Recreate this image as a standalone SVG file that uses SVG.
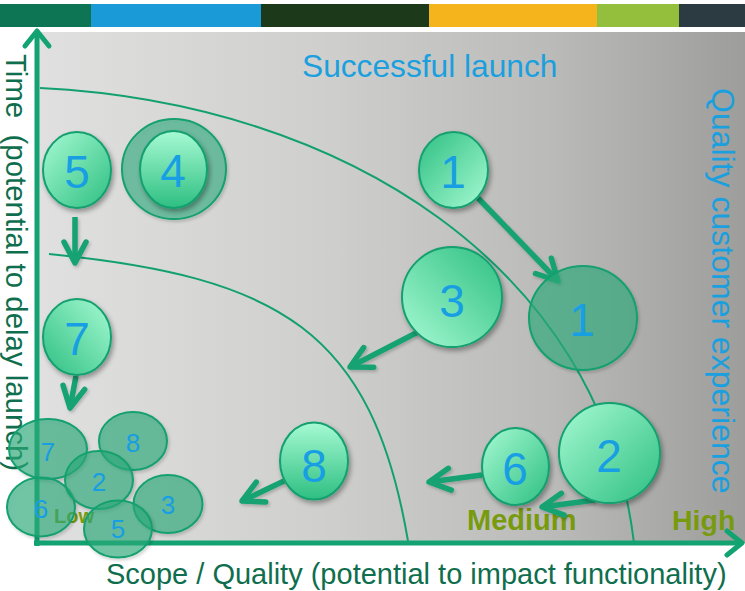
<svg xmlns="http://www.w3.org/2000/svg" width="745" height="591" viewBox="0 0 745 591">
  <style>
    .arc { fill: none; stroke: #12a070; stroke-width: 2; }
    .axis { fill: none; stroke: #13a372; stroke-width: 5; }
    .arrow { fill: none; stroke: #15a273; stroke-width: 5.5; }
    .bubble { stroke: #13a06f; stroke-width: 2; }
    .ghost { fill: #2aad7d; fill-opacity: 0.62; stroke: #13a06f; stroke-width: 2; }
    .num { font-family: "Liberation Sans", Arial, sans-serif; font-size: 46px; fill: #179ee3; text-anchor: middle; }
    .num-s { font-family: "Liberation Sans", Arial, sans-serif; font-size: 26px; fill: #179ee3; text-anchor: middle; }
    .title { font-family: "Liberation Sans", Arial, sans-serif; font-size: 31.7px; fill: #1a9fdf; }
    .axis-label { font-family: "Liberation Sans", Arial, sans-serif; font-size: 29px; fill: #0f6e4d; }
    .level { font-family: "Liberation Sans", Arial, sans-serif; font-weight: bold; fill: #789a0e; }
  </style>
  <defs>
    <linearGradient id="plotBg" x1="0" y1="0" x2="1" y2="0">
      <stop offset="0" stop-color="#e0e0e0"/>
      <stop offset="0.4" stop-color="#cfd0cd"/>
      <stop offset="0.72" stop-color="#bbbcb9"/>
      <stop offset="1" stop-color="#9d9e9b"/>
    </linearGradient>
    <!-- bubble shadings: light mint to deeper green in different directions -->
    <linearGradient id="gTLBR" x1="0" y1="0" x2="1" y2="1">
      <stop offset="0" stop-color="#a6fad3"/>
      <stop offset="1" stop-color="#2ebf82"/>
    </linearGradient>
    <linearGradient id="gV" x1="0" y1="0" x2="0" y2="1">
      <stop offset="0" stop-color="#a6fad3"/>
      <stop offset="1" stop-color="#2ebf82"/>
    </linearGradient>
    <linearGradient id="gTRBL" x1="1" y1="0" x2="0" y2="1">
      <stop offset="0" stop-color="#a6fad3"/>
      <stop offset="1" stop-color="#2ebf82"/>
    </linearGradient>
    <linearGradient id="gBRTL" x1="1" y1="1" x2="0" y2="0">
      <stop offset="0" stop-color="#a6fad3"/>
      <stop offset="1" stop-color="#2ebf82"/>
    </linearGradient>
    <linearGradient id="gBLTR" x1="0" y1="1" x2="1" y2="0">
      <stop offset="0" stop-color="#a6fad3"/>
      <stop offset="1" stop-color="#2ebf82"/>
    </linearGradient>
    <filter id="shadow" x="-30%" y="-30%" width="160%" height="160%">
      <feDropShadow dx="2" dy="3" stdDeviation="2.5" flood-color="#000" flood-opacity="0.35"/>
    </filter>
    <filter id="softShadow" x="-30%" y="-30%" width="160%" height="160%">
      <feDropShadow dx="1.5" dy="2" stdDeviation="1.5" flood-color="#000" flood-opacity="0.2"/>
    </filter>
    <marker id="head" markerUnits="userSpaceOnUse" markerWidth="40" markerHeight="40" viewBox="-30 -20 40 40" refX="0" refY="0" orient="auto">
      <path d="M -21 -11 L 0 0 L -21 11" fill="none" stroke="#15a273" stroke-width="5.5" stroke-linecap="round" stroke-linejoin="round"/>
    </marker>
    <marker id="axisHead" markerUnits="userSpaceOnUse" markerWidth="40" markerHeight="40" viewBox="-30 -20 40 40" refX="0" refY="0" orient="auto">
      <path d="M -15 -12 L 0 0 L -15 12" fill="none" stroke="#13a372" stroke-width="5" stroke-linecap="round" stroke-linejoin="round"/>
    </marker>
  </defs>

  <!-- page -->
  <rect x="0" y="0" width="745" height="591" fill="#ffffff"/>

  <!-- colour band -->
  <g id="band">
    <rect x="0" y="4" width="91" height="23" fill="#0d7553"/>
    <rect x="91" y="4" width="170" height="23" fill="#1b9ad8"/>
    <rect x="261" y="4" width="168" height="23" fill="#1c3a1a"/>
    <rect x="429" y="4" width="168" height="23" fill="#f6b41c"/>
    <rect x="597" y="4" width="82" height="23" fill="#93bf3c"/>
    <rect x="679" y="4" width="66" height="23" fill="#2c3b42"/>
  </g>

  <!-- plot area -->
  <rect x="37" y="32" width="708" height="511" fill="url(#plotBg)"/>

  <!-- zone boundaries -->
  <g id="zones">
    <path class="arc" d="M 40 88 C 345 103, 601 268, 634 543"/>
    <path class="arc" d="M 49 254 C 279 277, 372 330, 408 541"/>
  </g>

  <!-- captions -->
  <text class="title" x="302" y="77">Successful launch</text>
  <text class="title" transform="translate(712,88) rotate(90)" style="font-size:32px">Quality customer experience</text>
  <text class="axis-label" transform="translate(6,54) rotate(90)" style="font-size:29.4px" xml:space="preserve">Time  (potential to delay launch)</text>
  <text class="axis-label" x="106" y="584">Scope / Quality (potential to impact functionality)</text>
  <text class="level" x="54" y="523" font-size="20" fill="#5e9526">Low</text>
  <text class="level" x="467" y="530" font-size="29">Medium</text>
  <text class="level" x="672" y="530" font-size="28.5">High</text>

  <!-- axes -->
  <g id="axes">
    <line class="axis" x1="37" y1="546" x2="37" y2="31" marker-end="url(#axisHead)"/>
    <line class="axis" x1="34" y1="543" x2="742" y2="543" marker-end="url(#axisHead)"/>
  </g>

  <!-- moves between positions -->
  <g id="connectors" filter="url(#softShadow)">
    <line class="arrow" x1="75" y1="217" x2="75" y2="263" marker-end="url(#head)"/>
    <line class="arrow" x1="76" y1="376" x2="70" y2="408" marker-end="url(#head)"/>
    <line class="arrow" x1="478" y1="198" x2="558" y2="281" marker-end="url(#head)"/>
    <line class="arrow" x1="418" y1="332" x2="350" y2="367" marker-end="url(#head)"/>
    <line class="arrow" x1="284" y1="481" x2="242" y2="501" marker-end="url(#head)"/>
    <line class="arrow" x1="482" y1="475" x2="429" y2="482" marker-end="url(#head)"/>
    <line class="arrow" x1="595" y1="500" x2="542" y2="507" marker-end="url(#head)"/>
  </g>

  <!-- current positions (translucent) -->
  <g id="cur-1">
    <ellipse class="ghost" cx="583" cy="318" rx="54" ry="52" filter="url(#softShadow)"/>
    <text class="num" x="582" y="336">1</text>
  </g>
  <g id="cur-7">
    <ellipse class="ghost" cx="48" cy="449" rx="39" ry="30" filter="url(#softShadow)"/>
    <text class="num-s" x="48" y="461">7</text>
  </g>
  <g id="cur-8">
    <ellipse class="ghost" cx="133" cy="441" rx="34" ry="29" filter="url(#softShadow)"/>
    <text class="num-s" x="133" y="452">8</text>
  </g>
  <g id="cur-6">
    <ellipse class="ghost" cx="41" cy="507" rx="34" ry="29.5" filter="url(#softShadow)"/>
    <text class="num-s" x="41" y="518">6</text>
  </g>
  <g id="cur-2">
    <ellipse class="ghost" cx="99" cy="480" rx="34" ry="29" filter="url(#softShadow)"/>
    <text class="num-s" x="99" y="491">2</text>
  </g>
  <g id="cur-3">
    <ellipse class="ghost" cx="168" cy="504" rx="34.5" ry="29" filter="url(#softShadow)"/>
    <text class="num-s" x="168" y="514">3</text>
  </g>
  <g id="cur-5">
    <ellipse class="ghost" cx="118" cy="529" rx="34" ry="28.5" filter="url(#softShadow)"/>
    <text class="num-s" x="118" y="538">5</text>
  </g>

  <!-- target positions -->
  <g id="node-5">
    <ellipse class="bubble" cx="77" cy="170" rx="34" ry="38" fill="url(#gTLBR)" filter="url(#shadow)"/>
    <text class="num" x="77" y="188">5</text>
  </g>
  <g id="node-4">
    <ellipse class="ghost" cx="174" cy="169" rx="52" ry="50" style="fill-opacity:0.55" filter="url(#softShadow)"/>
    <ellipse class="bubble" cx="173.5" cy="169.5" rx="33.5" ry="38.5" fill="url(#gV)" filter="url(#shadow)"/>
    <text class="num" x="173" y="187">4</text>
  </g>
  <g id="node-7">
    <ellipse class="bubble" cx="77" cy="337" rx="34" ry="38" fill="url(#gTRBL)" filter="url(#shadow)"/>
    <text class="num" x="77" y="355">7</text>
  </g>
  <g id="node-1">
    <ellipse class="bubble" cx="453.5" cy="170" rx="34.5" ry="38" fill="url(#gBRTL)" filter="url(#shadow)"/>
    <text class="num" x="453" y="188">1</text>
  </g>
  <g id="node-3">
    <ellipse class="bubble" cx="452" cy="297" rx="50" ry="50" fill="url(#gBLTR)" filter="url(#shadow)"/>
    <text class="num" x="452" y="317">3</text>
  </g>
  <g id="node-8">
    <ellipse class="bubble" cx="314" cy="461" rx="34" ry="38.5" fill="url(#gV)" filter="url(#shadow)"/>
    <text class="num" x="314" y="482">8</text>
  </g>
  <g id="node-6">
    <ellipse class="bubble" cx="515.5" cy="466.5" rx="33.5" ry="38.5" fill="url(#gTLBR)" filter="url(#shadow)"/>
    <text class="num" x="515" y="485">6</text>
  </g>
  <g id="node-2">
    <ellipse class="bubble" cx="609.5" cy="453" rx="50.5" ry="50" fill="url(#gTLBR)" filter="url(#shadow)"/>
    <text class="num" x="609" y="472">2</text>
  </g>
</svg>
